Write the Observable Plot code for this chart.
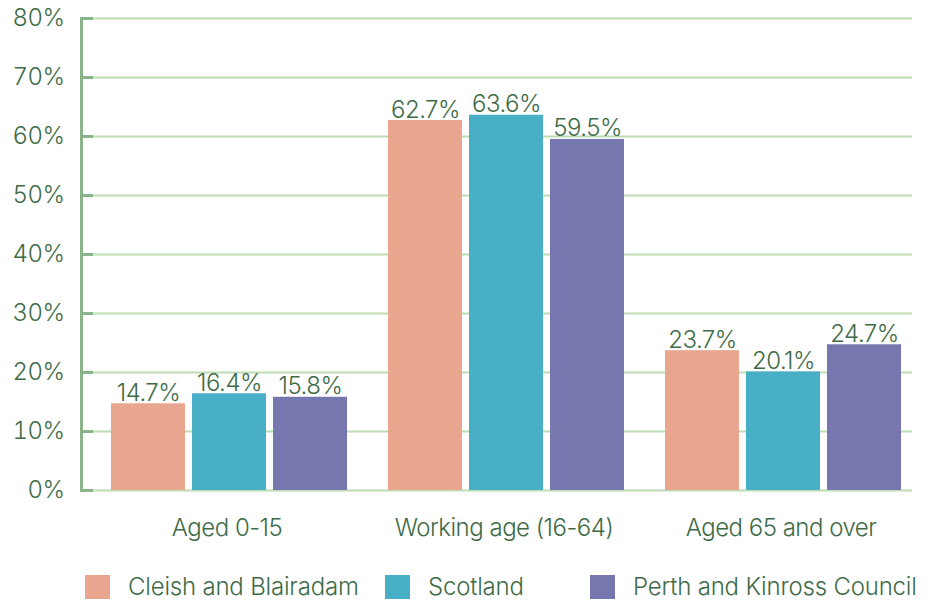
<!DOCTYPE html>
<html>
<head>
<meta charset="utf-8">
<script src="https://cdn.jsdelivr.net/npm/d3@7"></script>
<script src="https://cdn.jsdelivr.net/npm/@observablehq/plot@0.6"></script>
<style>
  body { margin: 0; background: #fff; font-family: Inter, "Liberation Sans", sans-serif; }
  #chart svg text { letter-spacing: -0.5px; font-weight: 300; }
  #legend { position: relative; height: 50px; width: 934px; color: #3e6b47; font-size: 24px; line-height: 24px; font-weight: 300; letter-spacing: -0.2px; }
  .item { position: absolute; top: 25px; display: flex; align-items: center; }
  .sw { width: 25px; height: 24px; margin-right: 18px; }
</style>
</head>
<body>
<div id="chart"></div>
<div id="legend"></div>
<script>
const groups = ["Aged 0-15", "Working age (16-64)", "Aged 65 and over"];
const series = ["Cleish and Blairadam", "Scotland", "Perth and Kinross Council"];
const cleish = [14.7, 62.7, 23.7];
const scotland = [16.4, 63.6, 20.1];
const perthKinross = [15.8, 59.5, 24.7];
const yTicks = [0, 10, 20, 30, 40, 50, 60, 70, 80];
const colors = ["#e9a68f", "#48afc6", "#7577ae"];

const values = [cleish, scotland, perthKinross];
const data = [];
groups.forEach((g, i) => series.forEach((s, j) => data.push({group: g, series: s, value: values[j][i]})));

const textColor = "#3e6b47";
const plot = Plot.plot({
  width: 934,
  height: 550,
  marginLeft: 81,
  marginRight: 22,
  marginTop: 18,
  marginBottom: 60,
  style: {fontFamily: "Inter, 'Liberation Sans', sans-serif", fontSize: "24px", color: textColor, background: "#fff"},
  fx: {domain: groups, padding: 0, label: null},
  x: {domain: series, axis: null, paddingInner: 0.092, paddingOuter: 0.135, insetLeft: 18},
  y: {domain: [0, 80], axis: null, label: null},
  color: {domain: series, range: colors},
  marks: [
    Plot.ruleY(yTicks, {stroke: "#bcdcb3", strokeWidth: 2}),
    Plot.barY(data, {fx: "group", x: "series", y: "value", fill: "series"}),
    Plot.text(data, {fx: "group", x: "series", y: "value", text: d => d.value.toFixed(1) + "%", lineAnchor: "bottom", dy: -3, fill: textColor, fontSize: 24}),
    Plot.frame({anchor: "left", facetAnchor: "left", stroke: "#8ab58a", strokeWidth: 3}),
    Plot.axisY({ticks: yTicks, tickSize: 12, dx: 12, fill: "none", stroke: "#8ab58a", strokeWidth: 3, label: null}),
    Plot.axisY({ticks: yTicks, tickSize: 0, tickPadding: 17, tickFormat: d => d + "%", fill: textColor, fontSize: 24, label: null}),
    Plot.axisFx({anchor: "bottom", tickSize: 0, tickPadding: 28, dx: 7, fill: textColor, fontSize: 24, label: null})
  ]
});
document.getElementById("chart").appendChild(plot);

const legend = document.getElementById("legend");
const lefts = [85, 385, 590];
series.forEach((s, i) => {
  const item = document.createElement("div");
  item.className = "item";
  item.style.left = lefts[i] + "px";
  item.innerHTML = `<div class="sw" style="background:${colors[i]}"></div><span>${s}</span>`;
  legend.appendChild(item);
});
</script>
</body>
</html>
